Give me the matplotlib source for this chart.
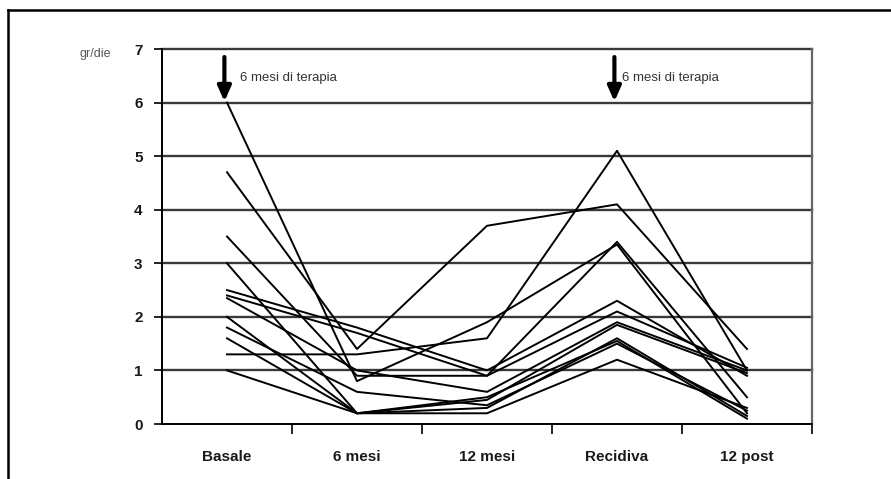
import matplotlib
matplotlib.use('Agg')
import matplotlib.pyplot as plt
from matplotlib.lines import Line2D

# categories and values (gr/die), one list per patient
categorie = ['Basale', '6 mesi', '12 mesi', 'Recidiva', '12 post']
p1 = [6.0, 0.8, 1.9, 3.35, 0.2]
p2 = [4.7, 1.4, 3.7, 4.1, 1.4]
p3 = [1.3, 1.3, 1.6, 5.1, 1.0]
p4 = [3.5, 0.9, 0.9, 3.4, 0.5]
p5 = [2.5, 1.8, 1.0, 2.3, 0.9]
p6 = [2.4, 1.7, 0.9, 2.1, 1.05]
p7 = [3.0, 0.2, 0.3, 1.6, 0.15]
p8 = [2.35, 1.0, 0.6, 1.9, 1.0]
p9 = [2.0, 0.2, 0.45, 1.85, 0.95]
p10 = [1.8, 0.6, 0.35, 1.5, 0.25]
p11 = [1.6, 0.2, 0.5, 1.55, 0.1]
p12 = [1.0, 0.2, 0.2, 1.2, 0.3]
pazienti = [p1, p2, p3, p4, p5, p6, p7, p8, p9, p10, p11, p12]
y_ticks = [0, 1, 2, 3, 4, 5, 6, 7]

plt.rcParams['font.family'] = ['Liberation Sans', 'DejaVu Sans']

fig = plt.figure(figsize=(8.91, 4.79), dpi=100, facecolor='w')
ax = fig.add_axes([162/891, 1-424/479, (812-162)/891, (424-49)/479])

x = list(range(len(categorie)))
for p in pazienti:
    ax.plot(x, p, color='black', lw=1.4, zorder=3)

# horizontal grid
for v in y_ticks[1:]:
    ax.axhline(v, color='#3a3a3a', lw=1.7, zorder=1, clip_on=False)

ax.set_xlim(-0.5, 4.5)
ax.set_ylim(0, 7)
ax.set_yticks(y_ticks)
ax.set_yticklabels([str(v) for v in y_ticks], fontweight='bold', fontsize=11, color='#1a1a1a')
ax.tick_params(axis='y', direction='out', length=6, width=1.2, pad=8)

# ticks between categories, labels at the centres
ax.set_xticks([0.5, 1.5, 2.5, 3.5, 4.5])
ax.set_xticklabels([])
ax.tick_params(axis='x', which='major', direction='out', length=7, width=1.2)
ax.set_xticks(x, minor=True)
ax.set_xticklabels(categorie, minor=True, fontweight='bold', fontsize=11, color='#1a1a1a')
ax.tick_params(axis='x', which='minor', length=0, pad=19)

ax.spines['top'].set_visible(False)
ax.spines['left'].set_linewidth(1.4)
ax.spines['bottom'].set_linewidth(1.4)
ax.spines['right'].set_color('#666666')
ax.spines['right'].set_linewidth(1.6)

# y unit label
fig.text(95/891, 1-54/479, 'gr/die', ha='center', va='center', fontsize=9, color='#555555')

# arrows with notes
for xc, xt in [(0, 240), (3, 622)]:
    ax.annotate('', xy=(xc - 0.02, 6.02), xytext=(xc - 0.02, 6.85),
                arrowprops=dict(arrowstyle='-|>,head_width=0.4,head_length=0.9',
                                color='black', lw=3, shrinkA=0, shrinkB=0))
    fig.text(xt/891, 1-78/479, '6 mesi di terapia', ha='left', va='center',
             fontsize=9.5, color='#333333')

# outer frame (top and left only)
fig.add_artist(Line2D([8/891, 8/891], [0, 1-10/479], transform=fig.transFigure, color='black', lw=1.8))
fig.add_artist(Line2D([8/891, 1], [1-10/479, 1-10/479], transform=fig.transFigure, color='black', lw=1.8))

fig.savefig('out.png', dpi=100)
